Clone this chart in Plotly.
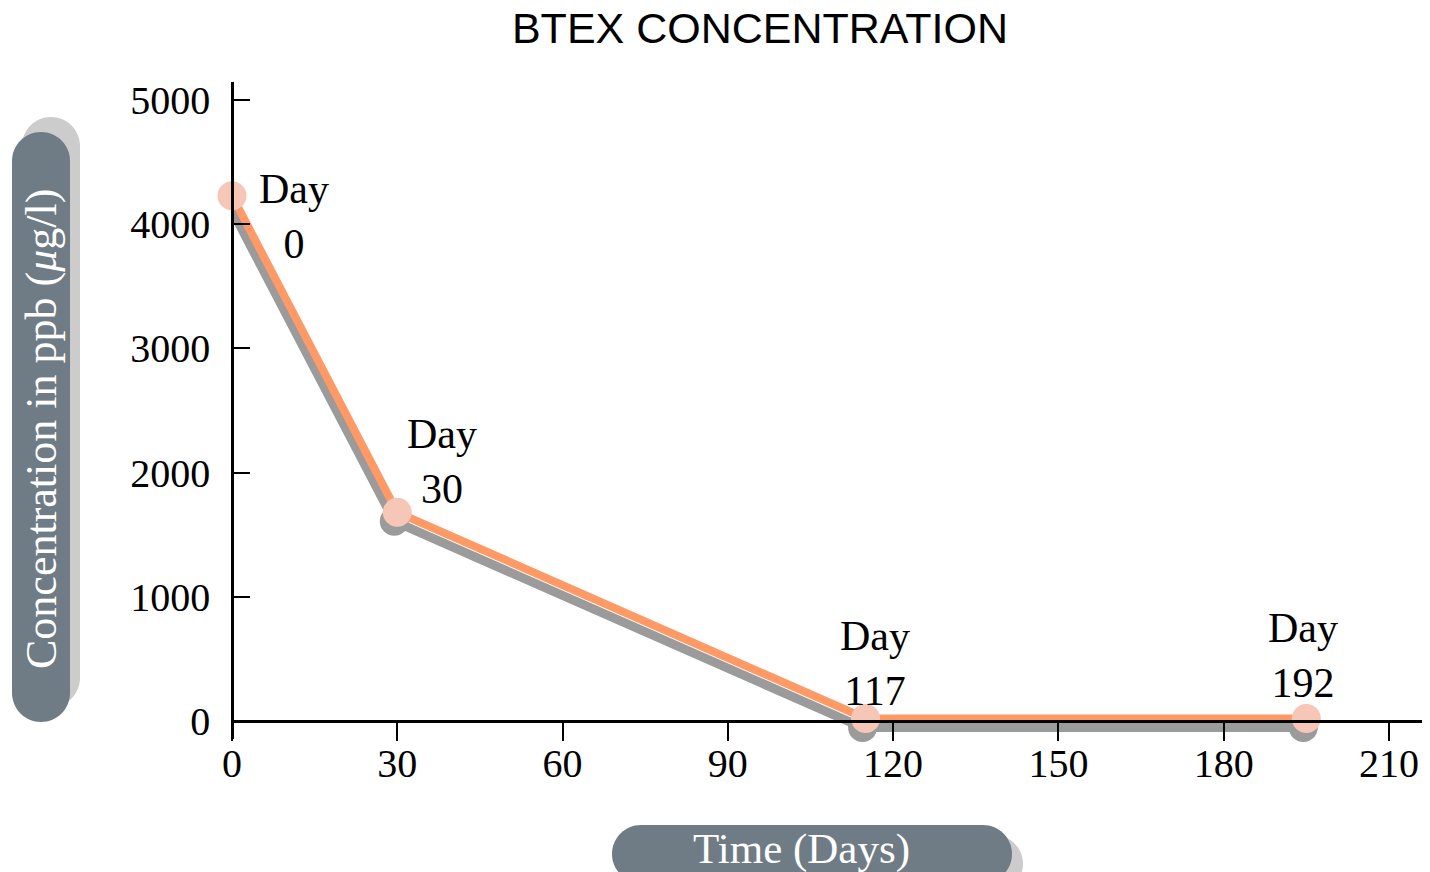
import plotly.graph_objects as go

# ---- data ----
days = [0, 30, 115, 195]
concentration = [4230, 1680, 20, 20]
point_labels = ["Day<br>0", "Day<br>30", "Day<br>117", "Day<br>192"]
x_tick_vals = [0, 30, 60, 90, 120, 150, 180, 210]
y_tick_vals = [0, 1000, 2000, 3000, 4000, 5000]

title_text = "BTEX CONCENTRATION"
x_title = "Time (Days)"
y_title = "Concentration in ppb (<i>μ</i>g/l)"

# ---- layout geometry (page pixels; body margin removed via post_script) ----
W, H = 1430, 872
PLOT_L, PLOT_R, PLOT_T, PLOT_B = 232, 1422, 82, 739
ML, MT = PLOT_L, PLOT_T
MR, MB = W - PLOT_R, H - PLOT_B
PW, PH = PLOT_R - PLOT_L, PLOT_B - PLOT_T
X_RANGE = [0, 216]
Y_RANGE = [-145, 5145]

# label offsets in px (right, up)
label_shift = [(62, -21), (45, 51), (9, 55), (-3, 63)]

# shadow offset in px
SH_DX, SH_DY = -3, 9
x_ppu = PW / (X_RANGE[1] - X_RANGE[0])
y_ppu = PH / (Y_RANGE[1] - Y_RANGE[0])
sx_range = [X_RANGE[0] - SH_DX / x_ppu, X_RANGE[1] - SH_DX / x_ppu]
sy_range = [Y_RANGE[0] + SH_DY / y_ppu, Y_RANGE[1] + SH_DY / y_ppu]

ORANGE = "#FF9966"
PINK = "#F6C6B6"
GRAY = "#9B9B9B"
BOX = "#6F7C86"
BOX_SHADOW = "#CCCCCC"
SERIF = "Liberation Serif, Times New Roman, serif"
SANS = "Liberation Sans, Arial, sans-serif"


def px2paper(px, py):
    return (px - PLOT_L) / PW, (PLOT_B - py) / PH


def pill_path(x0, y0, x1, y1, r):
    k = 0.5523 * r
    segs = [
        ("M", [(x0 + r, y0)]),
        ("L", [(x1 - r, y0)]),
        ("C", [(x1 - r + k, y0), (x1, y0 + r - k), (x1, y0 + r)]),
        ("L", [(x1, y1 - r)]),
        ("C", [(x1, y1 - r + k), (x1 - r + k, y1), (x1 - r, y1)]),
        ("L", [(x0 + r, y1)]),
        ("C", [(x0 + r - k, y1), (x0, y1 - r + k), (x0, y1 - r)]),
        ("L", [(x0, y0 + r)]),
        ("C", [(x0, y0 + r - k), (x0 + r - k, y0), (x0 + r, y0)]),
    ]
    out = []
    for cmd, plist in segs:
        coords = []
        for (px, py) in plist:
            a, b = px2paper(px, py)
            coords.append(f"{a:.5f},{b:.5f}")
        out.append(cmd + " " + " ".join(coords))
    return " ".join(out) + " Z"


fig = go.Figure()

# shadow line + markers (on hidden, shifted axes)
fig.add_trace(go.Scatter(
    x=days, y=concentration, xaxis="x", yaxis="y",
    mode="lines+markers",
    line=dict(color=GRAY, width=9),
    marker=dict(color=GRAY, size=29),
    cliponaxis=False, hoverinfo="skip", showlegend=False,
))
# main line + markers
fig.add_trace(go.Scatter(
    x=days, y=concentration, xaxis="x2", yaxis="y2",
    mode="lines+markers",
    line=dict(color=ORANGE, width=8),
    marker=dict(color=PINK, size=29),
    cliponaxis=False, showlegend=False,
))

annotations = []
for d, c, t, (dx, dy) in zip(days, concentration, point_labels, label_shift):
    annotations.append(dict(
        x=d, y=c, xref="x2", yref="y2", text=t, showarrow=False,
        xshift=dx, yshift=dy, font=dict(family=SERIF, size=42, color="black"),
        align="center",
    ))

# axis titles in pill boxes
yx, yy = px2paper(41, 429)
annotations.append(dict(
    x=yx, y=yy, xref="paper", yref="paper", text=y_title, showarrow=False,
    textangle=-90, font=dict(family=SERIF, size=44, color="white"),
    xanchor="center", yanchor="middle",
))
xx, xy = px2paper(801, 849)
annotations.append(dict(
    x=xx, y=xy, xref="paper", yref="paper", text=x_title, showarrow=False,
    font=dict(family=SERIF, size=43, color="white"),
    xanchor="center", yanchor="middle",
))

shapes = [
    dict(type="path", xref="paper", yref="paper", layer="below",
         path=pill_path(12 + 10, 132 - 15, 70 + 10, 722 - 15, 29),
         fillcolor=BOX_SHADOW, line=dict(width=0)),
    dict(type="path", xref="paper", yref="paper", layer="below",
         path=pill_path(12, 132, 70, 722, 29),
         fillcolor=BOX, line=dict(width=0)),
    dict(type="path", xref="paper", yref="paper", layer="below",
         path=pill_path(612 + 11, 825 + 10, 1012 + 11, 883 + 10, 29),
         fillcolor=BOX_SHADOW, line=dict(width=0)),
    dict(type="path", xref="paper", yref="paper", layer="below",
         path=pill_path(612, 825, 1012, 883, 29),
         fillcolor=BOX, line=dict(width=0)),
]

zero_pos = (0 - Y_RANGE[0]) / (Y_RANGE[1] - Y_RANGE[0])

fig.update_layout(
    width=W, height=H, autosize=False,
    margin=dict(l=ML, r=MR, t=MT, b=MB, pad=0),
    paper_bgcolor="white", plot_bgcolor="white",
    showlegend=False,
    title=dict(text=title_text, x=760 / W, y=1 - 28 / H,
               xref="container", yref="container",
               xanchor="center", yanchor="middle",
               font=dict(family=SANS, size=43, color="black")),
    xaxis=dict(range=sx_range, visible=False, domain=[0, 1]),
    yaxis=dict(range=sy_range, visible=False, domain=[0, 1]),
    xaxis2=dict(
        range=X_RANGE, overlaying="x", anchor="free", position=zero_pos,
        side="bottom", showgrid=False, zeroline=False,
        showline=True, linecolor="black", linewidth=2.5,
        ticks="outside", ticklen=18, tickwidth=2, tickcolor="black",
        tickvals=x_tick_vals, ticktext=[str(v) for v in x_tick_vals],
        tickfont=dict(family=SERIF, size=40, color="black"),
        ticklabelstandoff=-12,
    ),
    yaxis2=dict(
        range=Y_RANGE, overlaying="y", anchor="free", position=0,
        side="left", showgrid=False, zeroline=False,
        showline=True, linecolor="black", linewidth=2.5,
        ticks="inside", ticklen=16, tickwidth=2, tickcolor="black",
        tickvals=y_tick_vals, ticktext=[str(v) for v in y_tick_vals],
        tickfont=dict(family=SERIF, size=40, color="black"),
        ticklabelstandoff=13,
    ),
    annotations=annotations,
    shapes=shapes,
)

fig.write_html(
    "out.html",
    config={"displayModeBar": False},
    post_script="document.body.style.margin='0';document.body.style.overflow='hidden';",
)
